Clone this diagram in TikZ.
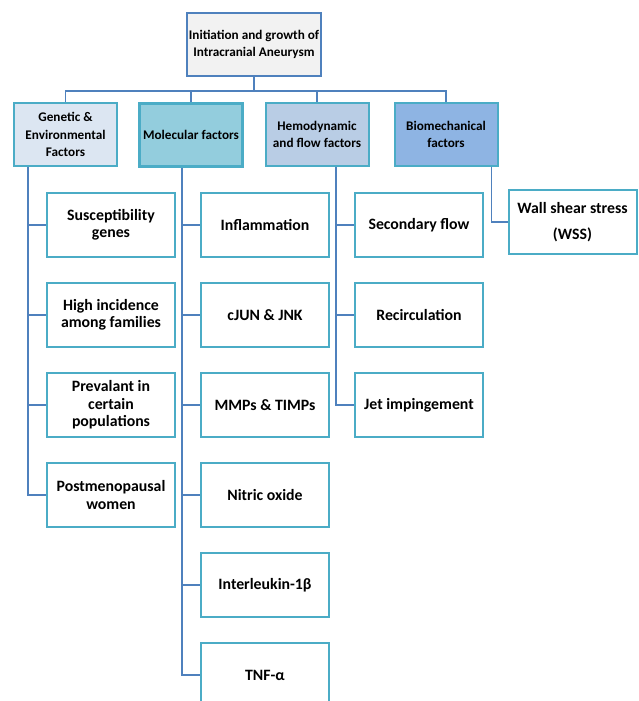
\documentclass[tikz,border=0pt]{standalone}
\usepackage{fontspec}
\setmainfont{Carlito}
\usetikzlibrary{calc}

\definecolor{boxedge}{HTML}{4BACC6}
\definecolor{linkblue}{HTML}{4F81BD}
\definecolor{rootgray}{HTML}{F2F2F2}
\definecolor{genfill}{HTML}{DCE6F2}
\definecolor{molfill}{HTML}{93CDDD}
\definecolor{hemofill}{HTML}{B9CDE5}
\definecolor{biofill}{HTML}{8EB4E3}

\begin{document}
\begin{tikzpicture}[x=1pt, y=-1pt, font=\bfseries\fontsize{13.2}{17.5}\selectfont,
  topbox/.style={draw=linkblue, fill=rootgray, line width=1.5pt, align=center, minimum width=134pt, minimum height=63pt, inner sep=0pt},
  catbox/.style={draw=boxedge, line width=2pt, align=center, minimum width=103pt, minimum height=63pt, inner sep=0pt},
  itembox/.style={draw=boxedge, fill=white, line width=2pt, align=center, minimum width=128pt, minimum height=64pt, inner sep=0pt, font=\bfseries\fontsize{15.8}{17.5}\selectfont},
  link/.style={draw=linkblue, line width=1.5pt}]

    \useasboundingbox (0,0) rectangle (638,701);

    % top and categories
    \node[topbox] (root) at (254,44.5) {Initiation and growth of\\Intracranial Aneurysm};
    \node[catbox, fill=genfill] (gen) at (65.5,134.5) {Genetic \&\\Environmental\\Factors};
    \node[catbox, fill=molfill, line width=3pt] (mol) at (191,134.5) {Molecular factors};
    \node[catbox, fill=hemofill] (hemo) at (317,134.5) {Hemodynamic\\and flow factors};
    \node[catbox, fill=biofill] (bio) at (446,134.5) {Biomechanical\\factors};

    % items
    \foreach \i/\txt in {1/{Susceptibility\\genes}, 2/{High incidence\\among families}, 3/{Prevalant in\\certain\\populations}, 4/{Postmenopausal\\women}}
      \node[itembox] (gen\i) at (111,135+90*\i) {\txt};
    \foreach \i/\txt in {1/Inflammation, 2/{cJUN \& JNK}, 3/{MMPs \& TIMPs}, 4/Nitric oxide, 5/Interleukin-1β, 6/TNF-α}
      \node[itembox] (mol\i) at (265,135+90*\i) {\txt};
    \foreach \i/\txt in {1/Secondary flow, 2/Recirculation, 3/Jet impingement}
      \node[itembox] (hemo\i) at (419,135+90*\i) {\txt};
    \node[itembox] (bio1) at (572.5,222) {Wall shear stress\\[8pt](WSS)};

    % Connections
    \foreach \h in {gen,mol,hemo,bio}
      \draw[link] (root.south) -- ++(0,14) -| (\h.north);
    \draw[link] ([xshift=-18pt]gen1.west |- gen.south) |- (gen4.west);
    \draw[link] ([xshift=-18pt]mol1.west |- mol.south) |- (mol6.west);
    \draw[link] ([xshift=-18pt]hemo1.west |- hemo.south) |- (hemo3.west);
    \draw[link] ([xshift=-16pt]bio1.west |- bio.south) |- (bio1.west);
    \foreach \i in {1,2,3}
      \draw[link] ([xshift=-18pt]gen\i.west) -- (gen\i.west);
    \foreach \i in {1,...,5}
      \draw[link] ([xshift=-18pt]mol\i.west) -- (mol\i.west);
    \foreach \i in {1,2}
      \draw[link] ([xshift=-18pt]hemo\i.west) -- (hemo\i.west);
\end{tikzpicture}
\end{document}
